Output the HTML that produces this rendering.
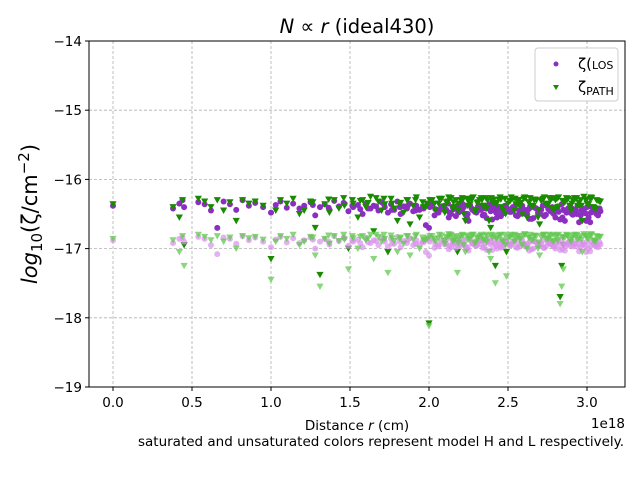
<!DOCTYPE html>
<html><head><meta charset="utf-8"><style>
body{margin:0;background:#fff;}
svg{display:block;font-family:"DejaVu Sans","Liberation Sans",sans-serif;}
</style></head><body>
<svg id="chart" width="640" height="480">
<rect width="640" height="480" fill="#fff"/>
<text x="357" y="33" text-anchor="middle" font-size="19.5"><tspan font-style="italic">N</tspan> ∝ <tspan font-style="italic">r</tspan> (ideal430)</text>
<g id="grid"></g>
<g id="marks"></g>
<rect x="89" y="41" width="536" height="346" fill="none" stroke="#000" stroke-width="1"/>
<g id="ticks"></g>
<text x="357" y="430" text-anchor="middle" font-size="13.5">Distance <tspan font-style="italic">r</tspan> (cm)</text>
<text x="625" y="428" text-anchor="end" font-size="13.5">1e18</text>
<text x="624" y="446" text-anchor="end" font-size="13.5">saturated and unsaturated colors represent model H and L respectively.</text>
<text transform="translate(37,214) rotate(-90)" text-anchor="middle" font-size="21"><tspan font-style="italic">log</tspan><tspan font-size="15" dy="5">10</tspan><tspan dy="-5">(ζ/cm</tspan><tspan font-size="15" dy="-8">−2</tspan><tspan dy="8">)</tspan></text>
<g>
<rect x="535" y="48" width="83" height="53" rx="3" fill="#fff" fill-opacity="0.85" stroke="#ccc"/>
<circle cx="556" cy="64" r="2.5" fill="#8b2fc0"/>
<text x="578" y="69" font-size="15">ζ(<tspan font-size="11">LOS</tspan></text>
<path d="M553,85 L559,85 L556,90 Z" fill="#1a8a00"/>
<text x="578" y="92" font-size="15">ζ<tspan font-size="11" dy="3">PATH</tspan></text>
</g>
</svg>
<script>
const xTicks=[0.0,0.5,1.0,1.5,2.0,2.5,3.0];
const xTickLabels=["0.0","0.5","1.0","1.5","2.0","2.5","3.0"];
const yTicks=[-14,-15,-16,-17,-18,-19];
const yTickLabels=["−14","−15","−16","−17","−18","−19"];
const rValues=[0.00,0.38,0.42,0.44,0.45,0.54,0.58,0.62,0.66,0.70,
0.74,0.78,0.82,0.86,0.90,0.95,1.00,1.03,1.06,1.10,
1.14,1.18,1.21,1.25,1.28,1.31,1.34,1.37,1.40,1.43,
1.46,1.49,1.52,1.55,1.58,1.60,1.63,1.65,1.68,1.70,
1.72,1.74,1.76,1.78,1.80,1.82,1.84,1.86,1.88,1.90,
1.92,1.94,1.96,1.98,2.00,2.02,2.04,2.06,2.08,2.10,
2.12,2.14,2.16,2.18,2.20,2.22,2.24,2.26,2.28,2.30,
2.32,2.34,2.36,2.38,2.40,2.42,2.44,2.46,2.48,2.50,
2.52,2.54,2.56,2.58,2.60,2.62,2.64,2.66,2.68,2.70,
2.72,2.74,2.76,2.78,2.80,2.82,2.84,2.86,2.88,2.90,
2.92,2.94,2.96,2.98,3.00,3.02,3.04,3.06,3.08,2.11,
2.13,2.15,2.17,2.19,2.21,2.23,2.25,2.27,2.29,2.31,
2.33,2.35,2.37,2.39,2.41,2.43,2.45,2.47,2.49,2.51,
2.53,2.55,2.57,2.59,2.61,2.63,2.65,2.67,2.69,2.71,
2.73,2.75,2.77,2.79,2.81,2.83,2.85,2.87,2.89,2.91,
2.93,2.95,2.97,2.99,3.01,3.03,3.05,3.07,1.99,2.85,
2.005,2.035,2.065,2.095,2.125,2.155,2.185,2.215,2.245,2.275,
2.305,2.335,2.365,2.395,2.425,2.455,2.485,2.515,2.545,2.575,
2.605,2.635,2.665,2.695,2.725,2.755,2.785,2.815,2.845,2.875,
2.905,2.935,2.965,2.995,3.025,3.055,3.085,1.515,1.615,1.715,
1.815,1.915,1.265,1.365,1.465,1.565,1.665,1.765,1.865,1.965];
const losH=[-16.38,-16.42,-16.35,-16.30,-16.40,-16.33,-16.36,-16.45,-16.70,-16.32,
-16.36,-16.44,-16.30,-16.38,-16.34,-16.40,-16.48,-16.37,-16.32,-16.41,
-16.35,-16.42,-16.38,-16.33,-16.52,-16.40,-16.36,-16.44,-16.31,-16.39,
-16.34,-16.46,-16.40,-16.37,-16.50,-16.35,-16.42,-16.38,-16.45,-16.33,
-16.40,-16.48,-16.36,-16.44,-16.32,-16.50,-16.39,-16.42,-16.35,-16.46,
-16.38,-16.44,-16.40,-16.66,-16.70,-16.36,-16.43,-16.48,-16.39,-16.45,
-16.35,-16.50,-16.42,-16.38,-16.46,-16.40,-16.55,-16.37,-16.44,-16.48,
-16.39,-16.52,-16.42,-16.36,-16.58,-16.45,-16.40,-16.50,-16.38,-16.43,
-16.47,-16.40,-16.53,-16.36,-16.44,-16.49,-16.39,-16.56,-16.42,-16.46,
-16.38,-16.51,-16.43,-16.40,-16.55,-16.47,-16.36,-16.60,-16.42,-16.49,
-16.44,-16.38,-16.52,-16.46,-16.40,-16.62,-16.45,-16.50,-16.42,-16.44,
-16.48,-16.40,-16.53,-16.37,-16.45,-16.50,-16.60,-16.42,-16.47,-16.39,
-16.44,-16.51,-16.40,-16.46,-16.38,-16.55,-16.43,-16.49,-16.41,-16.47,
-16.40,-16.52,-16.45,-16.38,-16.50,-16.43,-16.57,-16.41,-16.48,-16.44,
-16.53,-16.39,-16.46,-16.50,-16.42,-16.58,-16.44,-16.48,-16.40,-16.51,
-16.45,-16.62,-16.42,-16.49,-16.55,-16.40,-16.47,-16.52,-16.35,-16.44,
-16.40,-16.52,-16.45,-16.38,-16.55,-16.43,-16.48,-16.36,-16.50,-16.44,
-16.46,-16.39,-16.56,-16.42,-16.48,-16.53,-16.41,-16.45,-16.38,-16.50,
-16.44,-16.57,-16.40,-16.47,-16.52,-16.43,-16.49,-16.39,-16.55,-16.46,
-16.42,-16.50,-16.45,-16.60,-16.48,-16.41,-16.46,-16.38,-16.42,-16.36,
-16.40,-16.45,-16.37,-16.41,-16.35,-16.43,-16.39,-16.44,-16.38,-16.42];
const pathH=[-16.36,-16.40,-16.55,-16.30,-16.95,-16.28,-16.32,-16.40,-16.30,-16.45,
-16.33,-16.60,-16.30,-16.35,-16.32,-16.38,-17.15,-16.45,-16.30,-16.35,
-16.28,-16.50,-16.45,-16.32,-16.70,-17.38,-16.36,-16.48,-16.30,-16.42,
-16.27,-17.00,-16.35,-16.55,-16.30,-16.40,-16.25,-16.75,-16.32,-16.45,
-16.36,-17.05,-16.28,-16.42,-16.60,-16.34,-16.48,-16.30,-16.65,-16.38,
-16.26,-16.55,-16.33,-16.40,-18.08,-16.30,-16.44,-16.35,-16.28,-16.48,
-16.32,-16.27,-16.40,-17.05,-16.30,-16.50,-16.28,-16.36,-16.26,-16.44,
-16.30,-16.38,-16.27,-16.60,-16.33,-17.25,-16.29,-16.40,-16.28,-16.35,
-16.26,-16.45,-16.30,-16.34,-16.28,-16.55,-16.27,-16.38,-16.30,-16.65,
-16.29,-16.36,-16.27,-16.42,-16.30,-16.26,-17.25,-16.33,-16.28,-16.45,
-16.27,-16.38,-16.30,-16.25,-16.35,-16.28,-16.40,-16.30,-16.32,-16.33,
-16.28,-16.42,-16.30,-16.35,-16.27,-16.60,-16.31,-16.29,-16.46,-16.33,
-16.27,-16.38,-16.30,-16.70,-16.29,-16.34,-16.26,-16.45,-17.05,-16.31,
-16.28,-16.36,-16.30,-16.50,-16.27,-16.33,-16.40,-16.29,-16.55,-16.31,
-16.26,-16.35,-16.30,-16.45,-16.28,-17.70,-16.32,-16.27,-16.38,-16.30,
-16.28,-16.34,-16.60,-16.29,-16.36,-16.27,-16.42,-16.31,-16.35,-16.95,
-16.30,-16.35,-16.28,-16.40,-16.26,-16.33,-16.45,-16.29,-16.38,-16.27,
-16.34,-16.30,-16.42,-16.27,-16.36,-16.29,-16.50,-16.31,-16.28,-16.39,
-16.26,-16.33,-16.30,-16.44,-16.28,-16.36,-16.27,-16.40,-16.31,-16.29,
-16.35,-16.27,-16.38,-16.30,-16.26,-16.43,-16.32,-16.30,-16.34,-16.28,
-16.36,-16.30,-16.33,-16.29,-16.38,-16.31,-16.27,-16.35,-16.30,-16.40];
const losL=[-16.88,-16.92,-16.86,-16.84,-16.90,-16.83,-16.86,-16.95,-17.08,-16.84,
-16.86,-16.93,-16.82,-16.88,-16.84,-16.90,-16.98,-16.87,-16.83,-16.91,
-16.85,-16.92,-16.88,-16.84,-17.00,-16.90,-16.86,-16.94,-16.82,-16.89,
-16.84,-16.96,-16.90,-16.87,-16.98,-16.85,-16.92,-16.88,-16.95,-16.84,
-16.90,-16.97,-16.86,-16.93,-16.83,-16.98,-16.89,-16.92,-16.85,-16.95,
-16.88,-16.94,-16.90,-17.05,-17.10,-16.86,-16.93,-16.97,-16.89,-16.94,
-16.85,-16.98,-16.92,-16.88,-16.95,-16.90,-17.00,-16.87,-16.93,-16.96,
-16.89,-16.99,-16.92,-16.86,-17.02,-16.94,-16.90,-16.97,-16.88,-16.92,
-16.95,-16.90,-16.99,-16.86,-16.93,-16.96,-16.89,-17.00,-16.91,-16.94,
-16.88,-16.97,-16.92,-16.90,-17.00,-16.95,-16.86,-17.03,-16.91,-16.96,
-16.93,-16.88,-16.98,-16.94,-16.90,-17.04,-16.93,-16.97,-16.91,-16.93,
-16.96,-16.90,-16.99,-16.87,-16.94,-16.97,-17.03,-16.91,-16.95,-16.89,
-16.93,-16.98,-16.90,-16.94,-16.88,-17.00,-16.92,-16.96,-16.90,-16.95,
-16.90,-16.98,-16.93,-16.88,-16.97,-16.92,-17.01,-16.90,-16.95,-16.93,
-16.99,-16.89,-16.94,-16.97,-16.91,-17.02,-16.93,-16.96,-16.90,-16.97,
-16.93,-17.04,-16.91,-16.96,-17.00,-16.90,-16.95,-16.98,-16.86,-16.93,
-16.90,-16.99,-16.94,-16.88,-17.01,-16.92,-16.96,-16.87,-16.98,-16.93,
-16.95,-16.89,-17.02,-16.91,-16.96,-16.99,-16.90,-16.94,-16.88,-16.97,
-16.93,-17.03,-16.90,-16.95,-16.99,-16.92,-16.96,-16.89,-17.01,-16.94,
-16.91,-16.97,-16.94,-17.05,-16.96,-16.90,-16.94,-16.88,-16.91,-16.86,
-16.90,-16.93,-16.87,-16.90,-16.85,-16.92,-16.89,-16.93,-16.88,-16.91];
const pathL=[-16.86,-16.88,-17.05,-16.82,-17.25,-16.80,-16.83,-16.88,-16.82,-16.90,
-16.84,-17.00,-16.82,-16.85,-16.83,-16.87,-17.45,-16.90,-16.82,-16.86,
-16.80,-16.95,-16.90,-16.83,-17.10,-17.55,-16.86,-16.93,-16.82,-16.89,
-16.80,-17.30,-16.85,-17.00,-16.82,-16.88,-16.80,-17.15,-16.83,-16.90,
-16.86,-17.35,-16.81,-16.89,-17.05,-16.84,-16.93,-16.82,-17.10,-16.87,
-16.80,-17.00,-16.84,-16.88,-18.12,-16.82,-16.90,-16.85,-16.81,-16.93,
-16.83,-16.80,-16.88,-17.35,-16.82,-16.95,-16.81,-16.86,-16.80,-16.90,
-16.82,-16.87,-16.80,-17.05,-16.84,-17.50,-16.81,-16.88,-16.80,-16.85,
-16.80,-16.90,-16.82,-16.85,-16.81,-17.00,-16.80,-16.87,-16.82,-17.10,
-16.81,-16.86,-16.80,-16.89,-16.82,-16.80,-17.55,-16.84,-16.81,-16.90,
-16.80,-16.87,-16.82,-16.79,-16.85,-16.81,-16.88,-16.82,-16.83,-16.84,
-16.81,-16.89,-16.82,-16.85,-16.80,-17.05,-16.83,-16.81,-16.92,-16.84,
-16.80,-16.87,-16.82,-17.15,-16.81,-16.85,-16.80,-16.90,-17.40,-16.83,
-16.81,-16.86,-16.82,-16.95,-16.80,-16.84,-16.88,-16.81,-17.00,-16.83,
-16.80,-16.85,-16.82,-16.90,-16.81,-17.80,-16.84,-16.80,-16.87,-16.82,
-16.81,-16.85,-17.05,-16.81,-16.86,-16.80,-16.89,-16.83,-16.85,-17.30,
-16.82,-16.86,-16.80,-16.88,-16.79,-16.84,-16.92,-16.81,-16.87,-16.80,
-16.85,-16.82,-16.90,-16.80,-16.86,-16.81,-16.95,-16.83,-16.80,-16.87,
-16.79,-16.84,-16.82,-16.91,-16.80,-16.86,-16.80,-16.88,-16.83,-16.81,
-16.85,-16.80,-16.87,-16.82,-16.79,-16.90,-16.83,-16.82,-16.85,-16.80,
-16.86,-16.82,-16.84,-16.81,-16.87,-16.83,-16.80,-16.85,-16.82,-16.88];

const NS='http://www.w3.org/2000/svg';
function xs(v){return 113+v*158;}
function ys(v){return 41+(-14-v)*69.2;}
const grid=document.getElementById('grid');
const ticks=document.getElementById('ticks');
const marks=document.getElementById('marks');
function mk(tag,attrs,parent){const e=document.createElementNS(NS,tag);for(const k in attrs)e.setAttribute(k,attrs[k]);parent.appendChild(e);return e;}
xTicks.forEach((t,i)=>{
  const x=xs(t);
  const g=mk('line',{x1:x,x2:x,y1:41,y2:387,stroke:'#b0b0b0','stroke-width':0.8,'stroke-dasharray':'3,2'},grid);
  
  
  const tk=mk('line',{x1:x,x2:x,y1:387,y2:391,stroke:'#000'},ticks);
  
  
  const lb=mk('text',{x:x,y:407,'text-anchor':'middle','font-size':13.5},ticks);
  lb.textContent=xTickLabels[i];
  
  
});
yTicks.forEach((t,i)=>{
  const y=ys(t);
  const g=mk('line',{x1:89,x2:625,y1:y,y2:y,stroke:'#b0b0b0','stroke-width':0.8,'stroke-dasharray':'3,2'},grid);
  
  
  const tk=mk('line',{x1:85,x2:89,y1:y,y2:y,stroke:'#000'},ticks);
  
  
  const lb=mk('text',{x:82,y:y+5,'text-anchor':'end','font-size':13.5},ticks);
  lb.textContent=yTickLabels[i];
  
  
});
function circles(vals,color,op,name){
  vals.forEach((v,i)=>{
    const c=mk('circle',{cx:xs(rValues[i]),cy:ys(v),r:3,fill:color,'fill-opacity':op},marks);
    
    
  });
}
function tris(vals,color,op,name){
  vals.forEach((v,i)=>{
    const x=xs(rValues[i]),y=ys(v);
    const p=mk('path',{d:`M${x-3.6},${y-3} L${x+3.6},${y-3} L${x},${y+3.4} Z`,fill:color,'fill-opacity':op},marks);
    
    
  });
}
circles(losH,'#8b2fc0',1,'los-point-H');
tris(pathH,'#1a8a00',1,'path-point-H');
circles(losL,'#d890ea',0.7,'los-point-L');
tris(pathL,'#62c850',0.75,'path-point-L');
</script>
</body></html>
